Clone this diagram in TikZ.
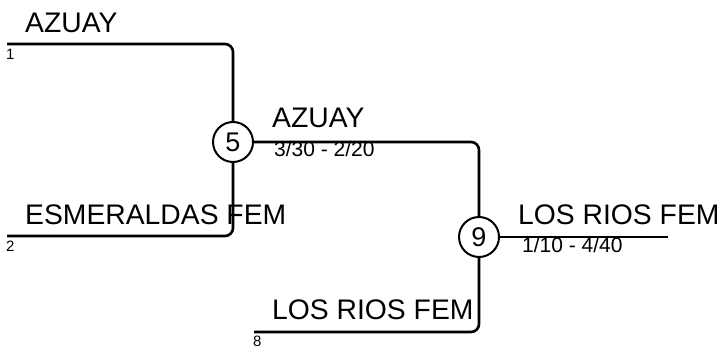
\documentclass[tikz,border=0pt]{standalone}
\usepackage{fontspec}
\setmainfont{Liberation Sans}
\begin{document}
\begin{tikzpicture}[x=1pt,y=-1pt,
  team/.style={font=\fontsize{28.3}{30}\selectfont, anchor=base west, inner sep=0pt},
  score/.style={font=\fontsize{21}{23}\selectfont, anchor=base west, inner sep=0pt},
  seed/.style={font=\fontsize{15}{17}\selectfont, anchor=base west, inner sep=0pt},
  match/.style={circle, draw, line width=2pt, minimum size=40pt, inner sep=0pt, font=\fontsize{27}{29}\selectfont},
  wire/.style={line width=2.6pt, rounded corners=8pt}]
\useasboundingbox (0,0) rectangle (722,348);
\node[match] (n5) at (233,142) {5};
\node[match] (n9) at (479,237) {9};
\coordinate (s1) at (7,44);
\coordinate (s2) at (7,236);
\coordinate (s8) at (254,332);
\coordinate (e9) at (668,237);
\draw[wire] (s1) -| (n5.north);
\draw[wire] (s2) -| (n5.south);
\draw[wire] (n5.east) -| (n9.north);
\draw[wire] (s8) -| (n9.south);
\draw[wire] (n9.east) -- (e9);
\node[team] (t1) at (25,32) {AZUAY};
\node[seed] (d1) at (6,59) {1};
\node[team] (t2) at (25,224) {ESMERALDAS FEM};
\node[seed] (d2) at (6,251) {2};
\node[team] (t5) at (272,127) {AZUAY};
\node[score] (r5) at (274,156) {3/30 - 2/20};
\node[team] (t8) at (272,319) {LOS RIOS FEM};
\node[seed] (d8) at (253,346) {8};
\node[team] (t9) at (518,224) {LOS RIOS FEM};
\node[score] (r9) at (522,252) {1/10 - 4/40};
\end{tikzpicture}
\end{document}
